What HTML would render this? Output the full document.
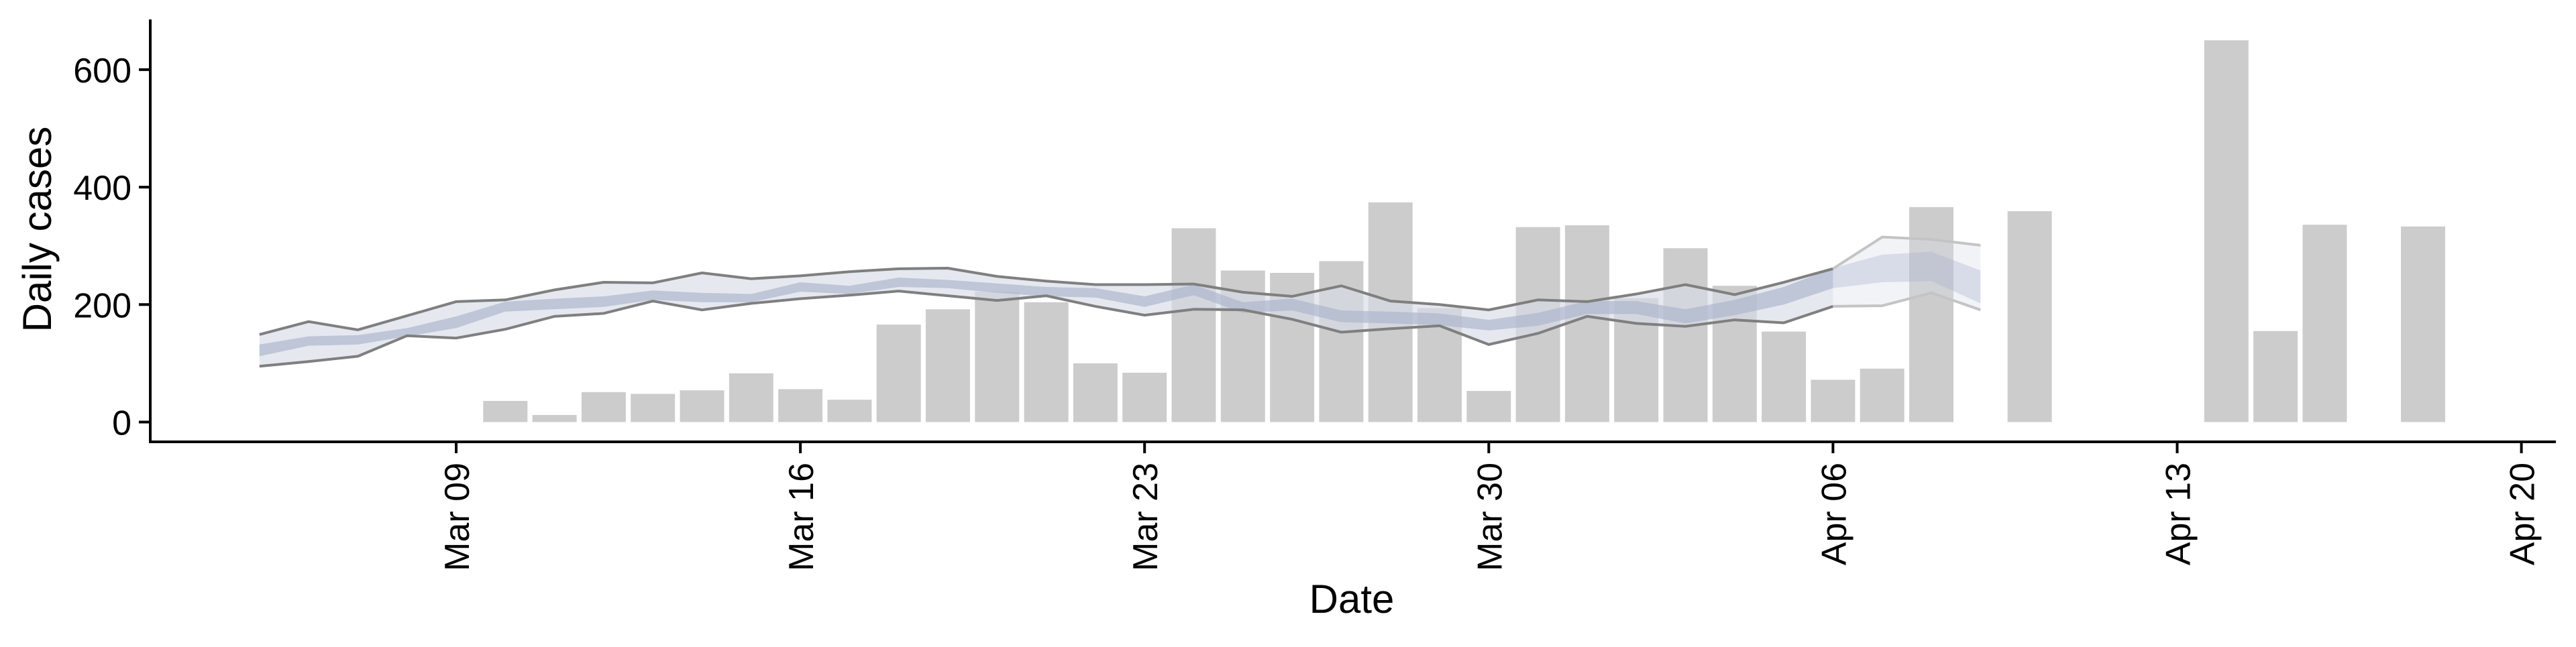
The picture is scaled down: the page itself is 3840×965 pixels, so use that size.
<!DOCTYPE html>
<html><head><meta charset="utf-8"><style>
html,body{margin:0;padding:0;background:#fff;}
svg text{font-family:"Liberation Sans",sans-serif;fill:#000;}
</style></head><body>
<svg id="chart" width="3840" height="960" viewBox="0 0 3840 960" xmlns="http://www.w3.org/2000/svg">
<g id="bars"></g>
<g id="bands"></g>
<g id="axes"></g>
</svg>
<script>
const barDays = [9,10,11,12,13,14,15,16,17,18,19,20,21,22,23,24,25,26,27,28,29,30,31,32,33,34,35,36,37,39,44,45,46,48];
const barValues = [36,12,51,48,54,83,56,38,166,192,222,204,100,84,330,258,254,274,374,194,53,332,335,211,296,232,154,72,91,366,359,650,155,336,333];
const lineDays = [0,1,2,3,4,5,6,7,8,9,10,11,12,13,14,15,16,17,18,19,20,21,22,23,24,25,26,27,28,29,30,31,32,33,34,35];
const upperOuter = [149,171,157,181,205,208,225,238,237,254,244,249,256,261,262,248,240,234,234,235,221,214,232,206,200,191,208,205,218,234,217,238,261,315,311,301];
const lowerOuter = [95,103,112,147,143,158,180,185,206,191,202,210,216,223,215,207,215,197,182,192,191,175,153,159,164,132,151,180,168,163,174,169,197,198,220,191];
const upperInner = [132,146,148,160,180,205,210,214,224,220,218,238,232,246,242,236,230,228,214,234,204,210,190,188,185,174,186,206,206,192,208,230,262,285,290,258];
const lowerInner = [112,130,132,146,160,188,192,196,208,204,204,222,218,230,228,220,214,212,196,216,186,190,170,168,165,156,164,184,184,168,182,200,228,238,240,202];
const tickLabels = ["Mar 09","Mar 16","Mar 23","Mar 30","Apr 06","Apr 13","Apr 20"];
const tickDays = [4,11,18,25,32,39,46];
const yTicks = [0,200,400,600];

const NS="http://www.w3.org/2000/svg";
const X0=680-4*73.3, DX=73.3, Y0=629.5, KY=0.876;
const x=d=>X0+d*DX;
const y=v=>Y0-v*KY;
function mk(tag,attrs,parent){const e=document.createElementNS(NS,tag);for(const k in attrs)e.setAttribute(k,attrs[k]);parent.appendChild(e);return e;}
// barDays: day index offset from Mar 5 (index 0). fix alignment: barDays listed for values
const bDays=[5,6,7,8,9,10,11,12,13,14,15,16,17,18,19,20,21,22,23,24,25,26,27,28,29,30,31,32,33,34,36,40,41,42,44];
const gb=document.getElementById('bars');
bDays.forEach((d,i)=>{
  const w=DX*0.9, v=barValues[i];
  const r=mk('rect',{x:x(d)-w/2,y:y(v),width:w,height:v*KY,fill:'#cccccc'},gb);
  
  
});
const gs=document.getElementById('bands');
function bandPath(lo,hi,from,to){
  let p='';for(let i=from;i<=to;i++)p+=(i===from?'M':'L')+x(lineDays[i])+','+y(hi[i]);
  for(let i=to;i>=from;i--)p+='L'+x(lineDays[i])+','+y(lo[i]);return p+'Z';
}
function linePath(a,from,to){let p='';for(let i=from;i<=to;i++)p+=(i===from?'M':'L')+x(lineDays[i])+','+y(a[i]);return p;}
const split=32;
[[0,split,1],[split,lineDays.length-1,0.45]].forEach(([f,t,op],k)=>{
  const o=mk('path',{d:bandPath(lowerOuter,upperOuter,f,t),fill:'#d8dce8','fill-opacity':0.55*op+0.1},gs);
  
  
  const n=mk('path',{d:bandPath(lowerInner,upperInner,f,t),fill:'#a9b3cb','fill-opacity':0.55*op+0.1},gs);
  
  
  const u=mk('path',{d:linePath(upperOuter,f,t),fill:'none',stroke:op<1?'#c4c4c4':'#7f7f7f','stroke-width':4},gs);
  
  
  const l=mk('path',{d:linePath(lowerOuter,f,t),fill:'none',stroke:op<1?'#c4c4c4':'#7f7f7f','stroke-width':4},gs);
  
  
});
const ga=document.getElementById('axes');
let e=mk('line',{x1:224,y1:29,x2:224,y2:661,stroke:'#000','stroke-width':4},ga);


e=mk('line',{x1:222,y1:659,x2:3810,y2:659,stroke:'#000','stroke-width':4},ga);


yTicks.forEach(v=>{
  const t=mk('line',{x1:207,y1:y(v),x2:224,y2:y(v),stroke:'#000','stroke-width':4},ga);
  
  
  const tx=mk('text',{x:196,y:y(v)+19,'text-anchor':'end','font-size':52},ga);
  tx.textContent=v;
  
  
});
tickDays.forEach((d,i)=>{
  const t=mk('line',{x1:x(d),y1:659,x2:x(d),y2:676,stroke:'#000','stroke-width':4},ga);
  
  
  const tx=mk('text',{x:0,y:0,'text-anchor':'end','font-size':52,transform:`translate(${x(d)+19},690) rotate(-90)`},ga);
  tx.textContent=tickLabels[i];
  
  
});
e=mk('text',{x:0,y:0,'text-anchor':'middle','font-size':60,transform:'translate(76,342) rotate(-90)'},ga);
e.textContent='Daily cases';


e=mk('text',{x:2015,y:914,'text-anchor':'middle','font-size':60},ga);
e.textContent='Date';


</script>
</body></html>
